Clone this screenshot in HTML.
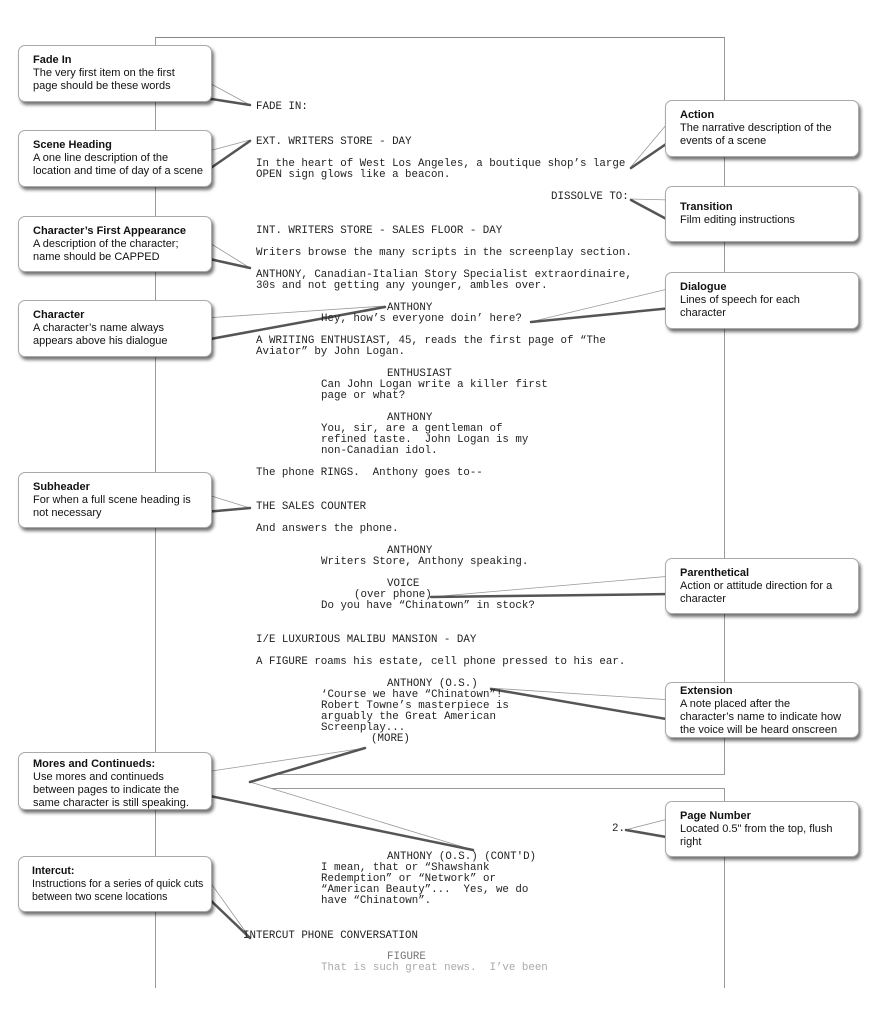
<!DOCTYPE html>
<html><head><meta charset="utf-8"><style>
body{margin:0;width:879px;height:1024px;background:#fff;position:relative;overflow:hidden}
.pg{position:absolute;border:1px solid #999;background:#fff}
.t{position:absolute;font-family:"Liberation Mono",monospace;font-size:10.8px;line-height:11px;color:#222;white-space:pre}
.b{position:absolute;width:194px;background:#fff;border:1px solid #aaa;border-radius:7px;box-shadow:2px 3px 3px rgba(0,0,0,.55);font-family:"Liberation Sans",sans-serif;font-size:11px;line-height:13px;color:#111;box-sizing:border-box;padding:8px 4px 0 14px;white-space:nowrap}
.b b{display:block}
svg{position:absolute;left:0;top:0}
</style></head><body>
<div class="pg" style="left:155px;top:37px;width:568px;height:736px;border-top-color:#888"></div>
<div class="pg" style="left:155px;top:788px;width:568px;height:199px;border-bottom:none"></div>
<svg width="879" height="1024">
<g fill="#fff" stroke="#999" stroke-width="0.8">
<polygon points="200,78 250,105 205,98"/>
<polygon points="205,152 250,140 205,172"/>
<polygon points="205,240 250,268 205,258"/>
<polygon points="205,318 385,306 205,340"/>
<polygon points="672,118 630,168 672,140"/>
<polygon points="672,200 630,199 672,222"/>
<polygon points="672,288 530,322 672,308"/>
<polygon points="205,494 250,508 205,512"/>
<polygon points="672,576 430,597 672,594"/>
<polygon points="672,700 490,688 672,720"/>
<polygon points="205,772 365,748 250,782 473,850 205,795"/>
<polygon points="672,818 625,830 672,838"/>
<polygon points="205,875 250,938 205,895"/>
</g>
<g stroke="#555" stroke-width="2.5" fill="none" stroke-linecap="round">
<line x1="205" y1="98" x2="250" y2="105"/>
<line x1="205" y1="172" x2="250" y2="141"/>
<line x1="205" y1="258" x2="250" y2="268"/>
<line x1="205" y1="340" x2="385" y2="307"/>
<line x1="672" y1="140" x2="631" y2="168"/>
<line x1="672" y1="222" x2="631" y2="200"/>
<line x1="672" y1="308" x2="531" y2="322"/>
<line x1="205" y1="512" x2="250" y2="508"/>
<line x1="672" y1="594" x2="431" y2="597"/>
<line x1="672" y1="720" x2="491" y2="689"/>
<line x1="250" y1="782" x2="365" y2="748"/>
<line x1="205" y1="795" x2="473" y2="850"/>
<line x1="672" y1="838" x2="626" y2="830"/>
<line x1="205" y1="895" x2="250" y2="938"/>
</g>
</svg>
<div class="t" style="left:256px;top:102px">FADE IN:</div>
<div class="t" style="left:256px;top:137px">EXT. WRITERS STORE - DAY</div>
<div class="t" style="left:256px;top:159px">In the heart of West Los Angeles, a boutique shop’s large
OPEN sign glows like a beacon.</div>
<div class="t" style="left:551px;top:192px">DISSOLVE TO:</div>
<div class="t" style="left:256px;top:226px">INT. WRITERS STORE - SALES FLOOR - DAY</div>
<div class="t" style="left:256px;top:248px">Writers browse the many scripts in the screenplay section.</div>
<div class="t" style="left:256px;top:270px">ANTHONY, Canadian-Italian Story Specialist extraordinaire,
30s and not getting any younger, ambles over.</div>
<div class="t" style="left:387px;top:303px">ANTHONY</div>
<div class="t" style="left:321px;top:314px">Hey, how’s everyone doin’ here?</div>
<div class="t" style="left:256px;top:336px">A WRITING ENTHUSIAST, 45, reads the first page of “The
Aviator” by John Logan.</div>
<div class="t" style="left:387px;top:369px">ENTHUSIAST</div>
<div class="t" style="left:321px;top:380px">Can John Logan write a killer first
page or what?</div>
<div class="t" style="left:387px;top:413px">ANTHONY</div>
<div class="t" style="left:321px;top:424px">You, sir, are a gentleman of
refined taste.  John Logan is my
non-Canadian idol.</div>
<div class="t" style="left:256px;top:468px">The phone RINGS.  Anthony goes to--</div>
<div class="t" style="left:256px;top:502px">THE SALES COUNTER</div>
<div class="t" style="left:256px;top:524px">And answers the phone.</div>
<div class="t" style="left:387px;top:546px">ANTHONY</div>
<div class="t" style="left:321px;top:557px">Writers Store, Anthony speaking.</div>
<div class="t" style="left:387px;top:579px">VOICE</div>
<div class="t" style="left:354px;top:590px">(over phone)</div>
<div class="t" style="left:321px;top:601px">Do you have “Chinatown” in stock?</div>
<div class="t" style="left:256px;top:635px">I/E LUXURIOUS MALIBU MANSION - DAY</div>
<div class="t" style="left:256px;top:657px">A FIGURE roams his estate, cell phone pressed to his ear.</div>
<div class="t" style="left:387px;top:679px">ANTHONY (O.S.)</div>
<div class="t" style="left:321px;top:690px">‘Course we have “Chinatown”!
Robert Towne’s masterpiece is
arguably the Great American
Screenplay...</div>
<div class="t" style="left:371px;top:734px">(MORE)</div>
<div class="t" style="left:612px;top:824px">2.</div>
<div class="t" style="left:387px;top:852px">ANTHONY (O.S.) (CONT'D)</div>
<div class="t" style="left:321px;top:863px">I mean, that or “Shawshank
Redemption” or “Network” or
“American Beauty”...  Yes, we do
have “Chinatown”.</div>
<div class="t" style="left:243px;top:931px">INTERCUT PHONE CONVERSATION</div>
<div class="t" style="left:387px;top:952px;color:#777">FIGURE</div>
<div class="t" style="left:321px;top:963px;color:#aaa">That is such great news.  I’ve been</div>

<div class="b" style="left:18px;top:45px;height:57px"><b>Fade In</b>The very first item on the first<br>page should be these words</div>
<div class="b" style="left:18px;top:130px;height:57px"><b>Scene Heading</b>A one line description of the<br>location and time of day of a scene</div>
<div class="b" style="left:18px;top:216px;height:56px"><b>Character’s First Appearance</b>A description of the character;<br>name should be CAPPED</div>
<div class="b" style="left:18px;top:300px;height:57px"><b>Character</b>A character’s name always<br>appears above his dialogue</div>
<div class="b" style="left:18px;top:472px;height:56px"><b>Subheader</b>For when a full scene heading is<br>not necessary</div>
<div class="b" style="left:18px;top:752px;height:58px;padding-top:5px"><b>Mores and Continueds:</b>Use mores and continueds<br>between pages to indicate the<br>same character is still speaking.</div>
<div class="b" style="left:18px;top:856px;height:56px;padding-left:13px;font-size:10.6px"><b>Intercut:</b>Instructions for a series of quick cuts<br>between two scene locations</div>
<div class="b" style="left:665px;top:100px;height:57px"><b>Action</b>The narrative description of the<br>events of a scene</div>
<div class="b" style="left:665px;top:186px;height:56px;padding-top:14px"><b>Transition</b>Film editing instructions</div>
<div class="b" style="left:665px;top:272px;height:57px"><b>Dialogue</b>Lines of speech for each<br>character</div>
<div class="b" style="left:665px;top:558px;height:56px"><b>Parenthetical</b>Action or attitude direction for a<br>character</div>
<div class="b" style="left:665px;top:682px;height:56px;padding-top:2px"><b>Extension</b>A note placed after the<br>character’s name to indicate how<br>the voice will be heard onscreen</div>
<div class="b" style="left:665px;top:801px;height:56px"><b>Page Number</b>Located 0.5" from the top, flush<br>right</div>
</body></html>
